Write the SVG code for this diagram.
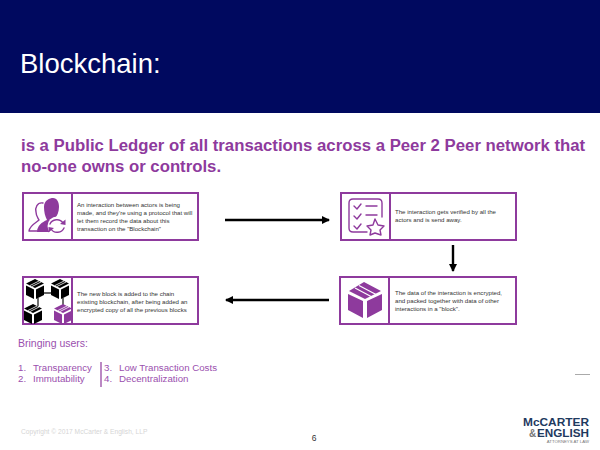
<svg xmlns="http://www.w3.org/2000/svg" width="600" height="450" viewBox="0 0 600 450">
<style>
text{font-family:"Liberation Sans",Arial,sans-serif}
.box{fill:#fff;stroke:#8e3a9d;stroke-width:2}
.t{font-size:6.1px;fill:#333}
.p{fill:#8e3a9d}
.pl{fill:none;stroke:#8e3a9d;stroke-width:1.400;stroke-linecap:round;stroke-linejoin:round}
.li{font-size:9.700px;fill:#9a4fae}
.c{stroke:#000;stroke-width:2.400;fill:none}
.logo{font-weight:700;fill:#1f3a5f;font-size:10px}
</style>
<defs>
<marker id="ah" markerUnits="userSpaceOnUse" markerWidth="9" markerHeight="9" refX="7" refY="4" orient="auto"><path d="M0 0L8 4L0 8Z" fill="#000"/></marker>
<g id="cube"><path d="M0-10L9-5.500L0-1L-9-5.500ZM-9-3.500L-1 .5V10L-9 6ZM9-3.500L1 .5V10L9 6Z"/><path d="M-5-3.500L4-8M-3-2.500L6-7" stroke="#fff" stroke-width=".8"/></g>
</defs>
<rect width="600" height="113" fill="#00095f"/>
<text x="20" y="73" font-size="27.500" fill="#fff">Blockchain:</text>
<text font-size="16.750" font-weight="700" fill="#8e3a9d"><tspan x="21" y="151">is a Public Ledger of all transactions across a Peer 2 Peer network that</tspan><tspan x="21" y="172">no-one owns or controls.</tspan></text>
<g id="connectors">
<path class="c" d="M225 220H329" marker-end="url(#ah)"/>
<path class="c" d="M453 245V271" marker-end="url(#ah)"/>
<path class="c" d="M329 300H226" marker-end="url(#ah)"/>
</g>
<g id="node-interaction">
<rect class="box" x="23" y="193" width="175" height="47"/><path class="box" d="M72 193V240"/>
<path class="p" d="M44 207C44 200 50 198 53 198C57 198 59 202 59 207C59 212 57 216 55 218L58 221C53 224 50 228 50 232H37C37 226 42 222 47 220C45 216 44 212 44 207Z"/>
<path class="pl" d="M43 203C37 202 35 208 36 212C36 216 38 218 39 220C36 223 30 225 29 231H37"/>
<circle cx="57" cy="226" r="9.500" fill="#fff"/>
<path class="pl" d="M50 224C52 219 60 218 63 223M64 228C62 233 54 234 51 229"/>
<path class="p" d="M60 224L65.500 225L65.500 219.500ZM54 228L48.500 227L48.500 232.500Z"/>
<text class="t"><tspan x="77" y="207">An interaction between actors is being</tspan><tspan x="77" y="215">made, and they're using a protocol that will</tspan><tspan x="77" y="223">let them record the data about this</tspan><tspan x="77" y="231">transaction on the "Blockchain"</tspan></text>
</g>
<g id="node-verified">
<rect class="box" x="341" y="193" width="175" height="47"/><path class="box" d="M390 193V240"/>
<path class="pl" d="M382 217V203Q382 199 378 199H353Q349 199 349 203V228Q349 232 353 232H367"/>
<path class="pl" d="M354 206L357 209L361 204M354 216L357 219L361 214M354 226L357 229L361 224M366 206H377M366 215H377"/>
<path class="pl" d="M375 219L378 225L384 226L380 230L381 235L375 233L370 235L371 230L367 226L373 225Z"/>
<text class="t"><tspan x="395" y="214">The interaction gets verified by all the</tspan><tspan x="395" y="222">actors and is send away.</tspan></text>
</g>
<g id="node-block">
<rect class="box" x="340" y="277" width="176" height="47"/><path class="box" d="M389 277V324"/>
<path class="p" d="M349 291L364 282L381 291L365 299ZM348 294L363 301V318L348 310ZM367 301L382 294V310L367 318Z"/>
<path d="M355 288L372 297M359 285.500L376 294.500" stroke="#fff" stroke-width="1.200"/>
<text class="t"><tspan x="395" y="295">The data of the interaction is encrypted,</tspan><tspan x="395" y="303">and packed together with data of other</tspan><tspan x="395" y="311">interactions in a "block".</tspan></text>
</g>
<g id="node-chain">
<rect class="box" x="23" y="277" width="175" height="47"/><path class="box" d="M72 277V324"/>
<path d="M42 293H52M38 298V306M63 298V306" stroke="#333" stroke-width="1.400"/>
<use href="#cube" x="35" y="289"/><use href="#cube" x="60" y="289"/><use href="#cube" x="33" y="314"/><use href="#cube" x="63" y="314" class="p"/>
<text class="t"><tspan x="77" y="296">The new block is added to the chain</tspan><tspan x="77" y="304">existing blockchain, after being added an</tspan><tspan x="77" y="312">encrypted copy of all the previous blocks</tspan></text>
</g>
<text x="18" y="347" font-size="10.500" fill="#9a4fae">Bringing users:</text>
<text class="li" y="371"><tspan x="18">1.</tspan><tspan x="33">Transparency</tspan></text>
<text class="li" y="382"><tspan x="18">2.</tspan><tspan x="33">Immutability</tspan></text>
<path d="M101 362V387" stroke="#8e3a9d" stroke-width="1.200"/>
<text class="li" y="371"><tspan x="104">3.</tspan><tspan x="119">Low Transaction Costs</tspan></text>
<text class="li" y="382"><tspan x="104">4.</tspan><tspan x="119">Decentralization</tspan></text>
<path d="M575 374.500H590" stroke="#aaa"/>
<text x="21" y="434" font-size="6.650" fill="#d5d5d5">Copyright © 2017 McCarter &amp; English, LLP</text>
<text x="314" y="441" font-size="8.500" fill="#333" text-anchor="middle">6</text>
<text class="logo" x="523" y="425.500" textLength="66" lengthAdjust="spacingAndGlyphs">McCARTER</text>
<text class="logo" x="537" y="436.500" textLength="52" lengthAdjust="spacingAndGlyphs">ENGLISH</text>
<text class="logo" x="529" y="436.500" style="fill:#777">&amp;</text>
<text x="589" y="443" font-size="4.300" fill="#777" text-anchor="end">ATTORNEYS AT LAW</text>
</svg>
